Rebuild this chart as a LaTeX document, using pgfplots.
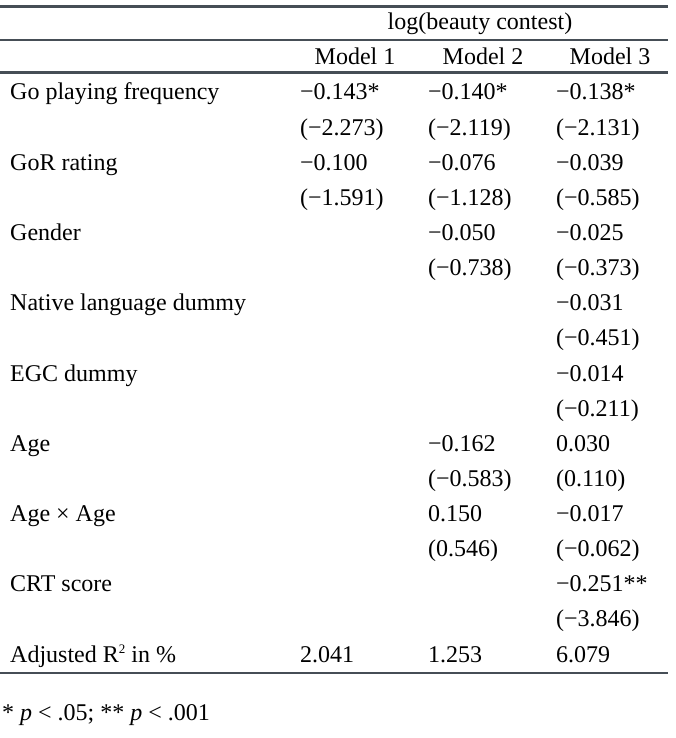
\documentclass[border=0pt]{standalone}
\usepackage{fontspec}
\setmainfont{Liberation Serif}
\usepackage{pgfplots}
\pgfplotsset{compat=1.18}
\definecolor{rulecol}{RGB}{70,78,86}

\begin{document}
\begin{tikzpicture}[
  cell/.style={anchor=base west, inner sep=0pt, text=black, font=\fontsize{24}{28}\selectfont},
  head/.style={anchor=base, inner sep=0pt, text=black, font=\fontsize{24}{28}\selectfont},
]
\begin{axis}[
  name=ax,
  width=675pt, height=738pt, scale only axis,
  xmin=0, xmax=675, ymin=0, ymax=738,
  y dir=reverse,
  axis lines=none,
  clip=false,
]
% rules
\draw[rulecol, line width=2.8pt] (axis cs:0,6.5) -- (axis cs:668,6.5);
\draw[rulecol, line width=2.8pt] (axis cs:0,40) -- (axis cs:668,40);
\draw[rulecol, line width=2.8pt] (axis cs:0,72.5) -- (axis cs:668,72.5);
\draw[rulecol, line width=2.8pt] (axis cs:0,673) -- (axis cs:668,673);

% headers
\node[head] at (axis cs:480,30) {log(beauty contest)};
\node[head] at (axis cs:355,65) {Model 1};
\node[head] at (axis cs:483,65) {Model 2};
\node[head] at (axis cs:610,65) {Model 3};

% row labels
\node[cell] at (axis cs:10,100)    {Go playing frequency};
\node[cell] at (axis cs:10,170.25) {GoR rating};
\node[cell] at (axis cs:10,240.5)  {Gender};
\node[cell] at (axis cs:10,310.75) {Native language dummy};
\node[cell] at (axis cs:10,381)    {EGC dummy};
\node[cell] at (axis cs:10,451.25) {Age};
\node[cell] at (axis cs:10,521.5)  {Age × Age};
\node[cell] at (axis cs:10,591.75) {CRT score};
\node[cell] at (axis cs:10,662)    {Adjusted R\raisebox{0.75ex}{\fontsize{13}{13}\selectfont 2} in \%};

% Model 1
\node[cell] at (axis cs:300,100)     {−0.143*};
\node[cell] at (axis cs:300,135.125) {(−2.273)};
\node[cell] at (axis cs:300,170.25)  {−0.100};
\node[cell] at (axis cs:300,205.375) {(−1.591)};
\node[cell] at (axis cs:300,662)     {2.041};

% Model 2
\node[cell] at (axis cs:428,100)     {−0.140*};
\node[cell] at (axis cs:428,135.125) {(−2.119)};
\node[cell] at (axis cs:428,170.25)  {−0.076};
\node[cell] at (axis cs:428,205.375) {(−1.128)};
\node[cell] at (axis cs:428,240.5)   {−0.050};
\node[cell] at (axis cs:428,275.625) {(−0.738)};
\node[cell] at (axis cs:428,451.25)  {−0.162};
\node[cell] at (axis cs:428,486.375) {(−0.583)};
\node[cell] at (axis cs:428,521.5)   {0.150};
\node[cell] at (axis cs:428,556.625) {(0.546)};
\node[cell] at (axis cs:428,662)     {1.253};

% Model 3
\node[cell] at (axis cs:556,100)     {−0.138*};
\node[cell] at (axis cs:556,135.125) {(−2.131)};
\node[cell] at (axis cs:556,170.25)  {−0.039};
\node[cell] at (axis cs:556,205.375) {(−0.585)};
\node[cell] at (axis cs:556,240.5)   {−0.025};
\node[cell] at (axis cs:556,275.625) {(−0.373)};
\node[cell] at (axis cs:556,310.75)  {−0.031};
\node[cell] at (axis cs:556,345.875) {(−0.451)};
\node[cell] at (axis cs:556,381)     {−0.014};
\node[cell] at (axis cs:556,416.125) {(−0.211)};
\node[cell] at (axis cs:556,451.25)  {0.030};
\node[cell] at (axis cs:556,486.375) {(0.110)};
\node[cell] at (axis cs:556,521.5)   {−0.017};
\node[cell] at (axis cs:556,556.625) {(−0.062)};
\node[cell] at (axis cs:556,591.75)  {−0.251**};
\node[cell] at (axis cs:556,626.875) {(−3.846)};
\node[cell] at (axis cs:556,662)     {6.079};

% footnote
\node[cell] at (axis cs:2,720) {* \textit{p} < .05; ** \textit{p} < .001};
\end{axis}
\pgfresetboundingbox
\path[use as bounding box] (ax.south west) rectangle (ax.north east);
\end{tikzpicture}
\end{document}
